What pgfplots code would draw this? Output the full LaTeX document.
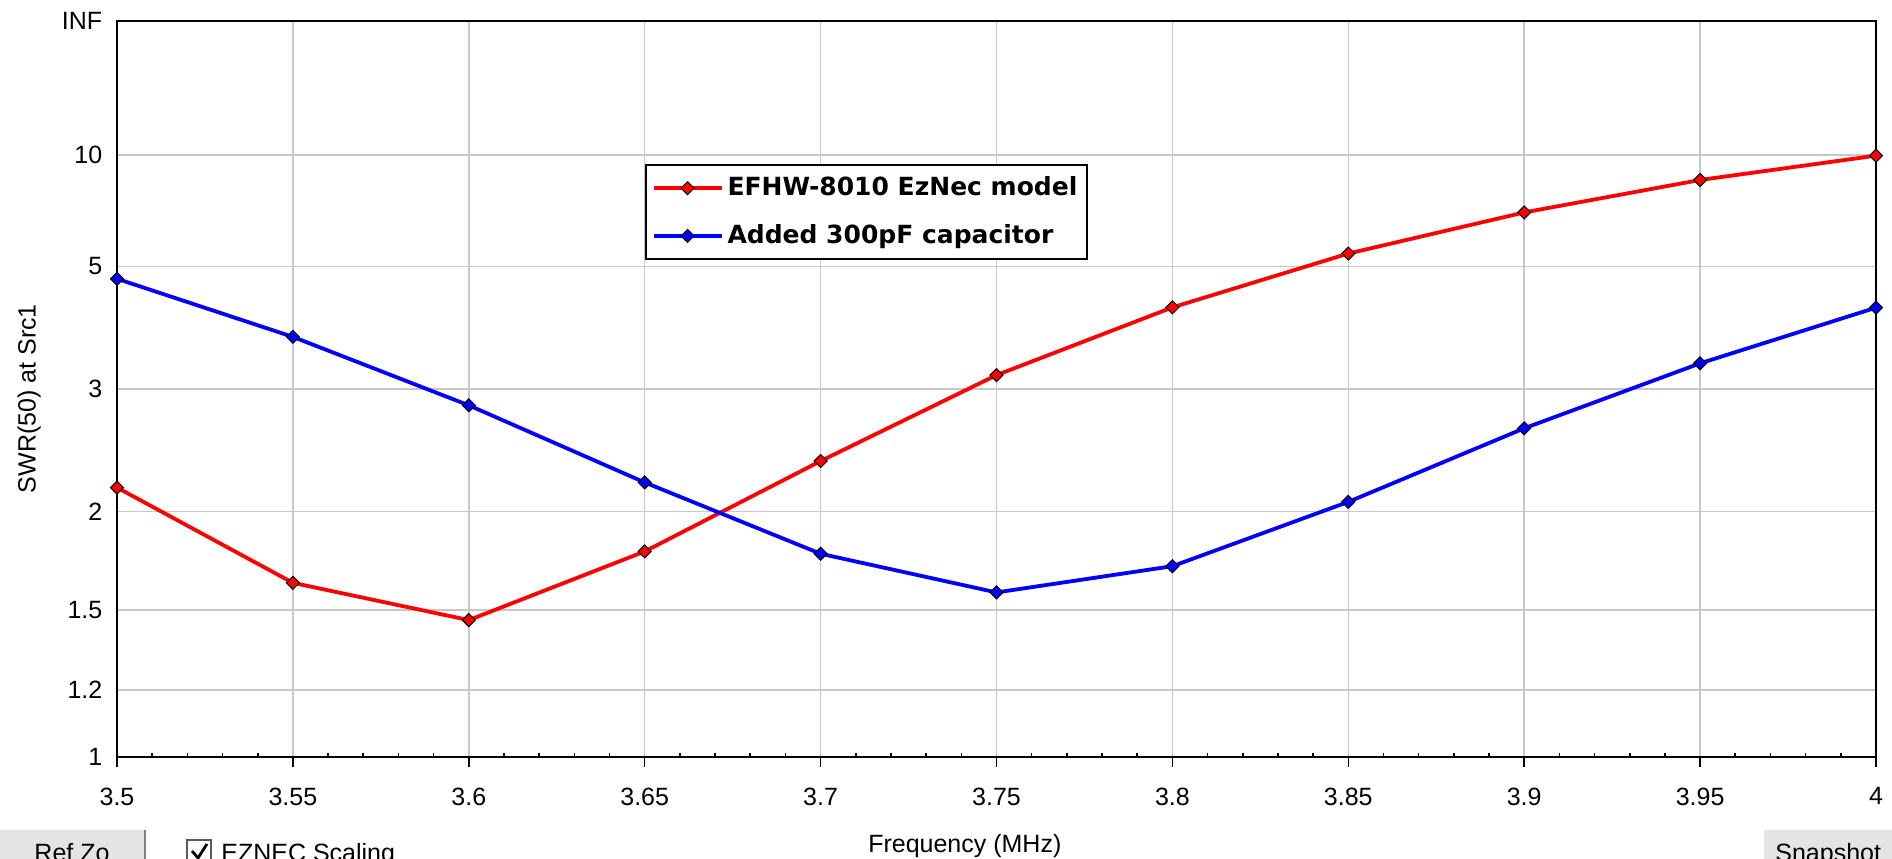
\documentclass[border=0pt]{standalone}
\usepackage{pgfplots}
\pgfplotsset{compat=1.18}
\usepackage{fontspec}
\setmainfont{Liberation Sans}
\newfontfamily\legfont{DejaVu Sans}
\definecolor{gridgray}{RGB}{200,200,200}
\definecolor{btngray}{RGB}{228,228,228}
\begin{document}
\begin{tikzpicture}
\fontsize{12.5}{15}\selectfont
\begin{axis}[
  scale only axis,
  width=879.5pt, height=368pt,
  xmin=3.5, xmax=4, ymin=0, ymax=1,
  /pgf/number format/assume math mode=true,
  font=\fontsize{12.5}{15}\selectfont,
  axis line style={line width=1pt, black},
  xtick={3.5,3.55,3.6,3.65,3.7,3.75,3.8,3.85,3.9,3.95,4},
  xticklabels={3.5,3.55,3.6,3.65,3.7,3.75,3.8,3.85,3.9,3.95,4},
  ytick={0,0.0909091,0.2,0.3333333,0.5,0.6666667,0.8181818,1},
  yticklabels={1,1.2,1.5,2,3,5,10,INF},
  minor x tick num=4,
  xtick pos=bottom,
  tick align=outside,
  major tick length=5pt,
  minor tick length=-1.8pt,
  ytick style={draw=none},
  xtick style={black, line width=0.8pt},
  grid=major,
  major grid style={gridgray, line width=0.75pt},
  xticklabel style={yshift=-6pt},
  yticklabel style={xshift=2pt},
  xlabel={Frequency (MHz)},
  ylabel={SWR(50) at Src1},
  every axis x label/.style={at={(axis description cs:0.482,0)}, yshift=-44.5pt, anchor=center},
  every axis y label/.style={at={(axis description cs:-0.0500,0.487)}, rotate=90, anchor=center},
  y filter/.expression={(y-1)/(y+1)},
  legend style={at={(rel axis cs:0.300,0.806)}, anchor=north west, draw=black, line width=1pt, fill=white,
    font=\legfont\fontsize{12.5}{15}\selectfont\bfseries, inner xsep=3pt, inner ysep=4pt, row sep=8.5pt},
  legend cell align=left,
  legend image code/.code={\draw[mark repeat=2,mark phase=2,#1] plot coordinates {(0pt,0pt)(17pt,0pt)(34pt,0pt)};},
  clip=false,
]
\addplot[red, line width=1.9pt, mark=square*, mark size=2.3pt,
  mark options={rotate=45, draw=black, fill=red, line width=0.5pt}]
  coordinates {(3.5,2.155)(3.55,1.620)(3.6,1.457)(3.65,1.775)(3.7,2.345)(3.75,3.157)
               (3.8,4.14)(3.85,5.33)(3.9,6.69)(3.95,8.26)(4.0,9.93)};
\addlegendentry{EFHW-8010 EzNec model}
\addplot[blue, line width=1.9pt, mark=square*, mark size=2.3pt,
  mark options={rotate=45, draw=black, fill=blue, line width=0.5pt}]
  coordinates {(3.5,4.71)(3.55,3.66)(3.6,2.83)(3.65,2.19)(3.7,1.763)(3.75,1.576)
               (3.8,1.70)(3.85,2.061)(3.9,2.614)(3.95,3.30)(4.0,4.135)};
\addlegendentry{Added 300pF capacitor}
\end{axis}
% bottom UI widgets
\fill[btngray] (-58.5pt,-36.5pt) rectangle (14pt,-60pt);
\draw[gray, line width=0.8pt] (14pt,-36.5pt) -- (14pt,-60pt);
\node[anchor=base, inner sep=0pt] at (-22.5pt,-52pt) {Ref Zo};
\draw[gray!70!black, line width=0.8pt] (35pt,-41.5pt) rectangle (47pt,-60pt);
\draw[black, line width=1.4pt] (37.5pt,-47pt) -- (40.5pt,-50.5pt) -- (45pt,-43.5pt);
\node[anchor=base west, inner sep=0pt] at (52pt,-52pt) {EZNEC Scaling};
\fill[btngray] (823.5pt,-36.5pt) rectangle (900pt,-60pt);
\node[anchor=base west, inner sep=0pt] at (829pt,-52pt) {Snapshot};
\pgfresetboundingbox
\useasboundingbox (-58.5pt,-50.5pt) rectangle (887.5pt,378.5pt);
\end{tikzpicture}
\end{document}
